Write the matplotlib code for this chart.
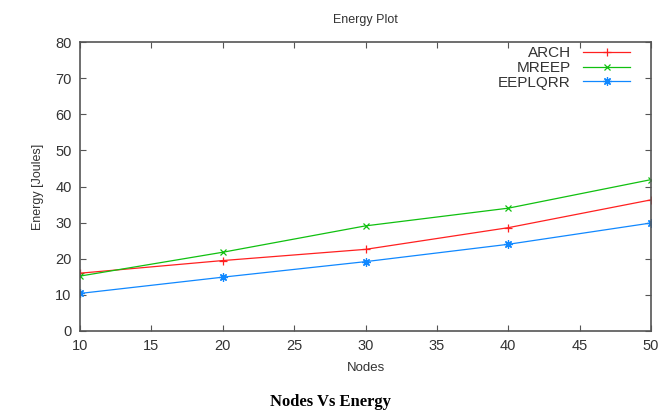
import numpy as np
import matplotlib.pyplot as plt

# data
nodes = [10, 20, 30, 40, 50]
arch = [16.0, 19.5, 22.6, 28.6, 36.3]
mreep = [15.2, 21.8, 29.1, 34.0, 41.9]
eeplqrr = [10.4, 14.9, 19.2, 24.0, 29.9]

xticks = [10, 15, 20, 25, 30, 35, 40, 45, 50]
yticks = [0, 10, 20, 30, 40, 50, 60, 70, 80]

plt.rcParams['font.family'] = ['Liberation Sans', 'DejaVu Sans']
gray = '#555555'

fig = plt.figure(figsize=(6.61, 4.12), dpi=100)
ax = fig.add_axes([80/661, 1 - 331/412, 571/661, 289/412])

ax.plot(nodes, arch, color='#ff2020', lw=0.9, marker='+', ms=6, mew=0.9, label='ARCH')
ax.plot(nodes, mreep, color='#10c010', lw=0.9, marker='x', ms=5, mew=0.9, label='MREEP')
ax.plot(nodes, eeplqrr, color='#1088ff', lw=0.9, marker=(8, 2, 0), ms=6, mew=0.9, label='EEPLQRR')

ax.set_xlim(10, 50)
ax.set_ylim(0, 80)
ax.set_xticks(xticks)
ax.set_yticks(yticks)
ax.tick_params(direction='in', top=True, right=True, length=4, width=0.8,
               color=gray, labelcolor='#333333', labelsize=10.5, pad=6)
for s in ax.spines.values():
    s.set_color(gray)
    s.set_linewidth(1.2)

ax.set_title('Energy Plot', fontsize=9, color='#333333', pad=14)
ax.set_xlabel('Nodes', fontsize=9.5, color='#333333', labelpad=6)
ax.set_ylabel('Energy [Joules]', fontsize=9, color='#333333', labelpad=8)

leg = ax.legend(loc='upper right', bbox_to_anchor=(0.977, 1.012), frameon=False,
                markerfirst=False, fontsize=11, borderpad=0, handlelength=3.1,
                labelspacing=0.05, handletextpad=0.8)
for t in leg.get_texts():
    t.set_color('#333333')

fig.text(0.5, 1 - 402/412, 'Nodes Vs Energy', ha='center', va='center',
         family=['Liberation Serif', 'DejaVu Serif'], fontweight='bold', fontsize=12)

fig.savefig('out.png', dpi=100)
